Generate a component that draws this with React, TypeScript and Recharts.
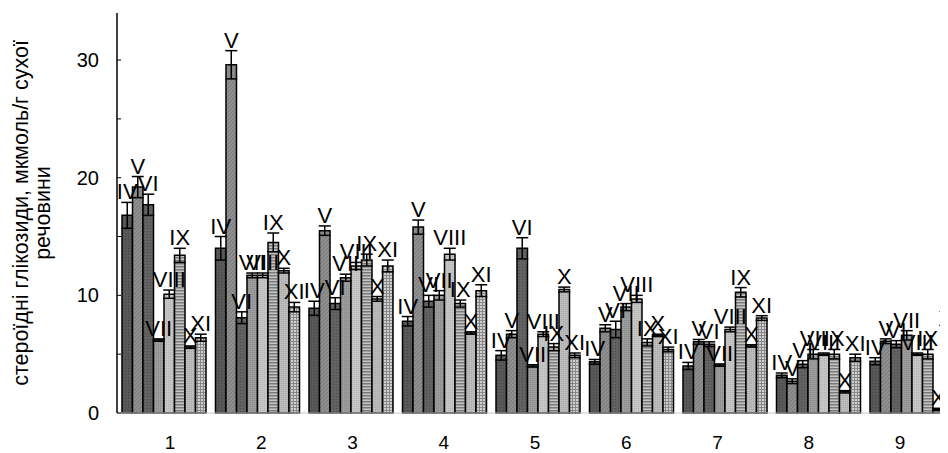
import { BarChart, Bar, XAxis, YAxis, ErrorBar, LabelList } from 'recharts'

const FONT = '"Liberation Sans", Arial, sans-serif'

const GROUPS = ['1', '2', '3', '4', '5', '6', '7', '8', '9']
const SERIES = ['IV', 'V', 'VI', 'VII', 'VIII', 'IX', 'X', 'XI']
const Y_TICKS = [0, 5, 10, 15, 20, 25, 30]

// значення по групах 1..9
const IV = [16.8, 14.0, 8.9, 7.8, 4.9, 4.35, 4.0, 3.2, 4.4]
const V = [19.2, 29.6, 15.5, 15.8, 6.7, 7.2, 6.05, 2.7, 6.1]
const VI = [17.7, 8.1, 9.3, 9.5, 14.0, 7.1, 5.85, 4.15, 5.85]
const VII = [6.2, 11.7, 11.5, 10.0, 4.0, 9.0, 4.07, 5.0, 6.6]
const VIII = [10.1, 11.7, 12.5, 13.5, 6.7, 9.7, 7.1, 5.0, 5.0]
const IX = [13.4, 14.5, 13.0, 9.3, 5.6, 6.0, 10.26, 5.0, 5.0]
const X = [5.6, 12.1, 9.7, 6.8, 10.5, 6.6, 5.7, 1.8, 0.3]
const XI = [6.4, 9.0, 12.5, 10.4, 4.9, 5.4, 8.07, 4.7, 6.8]

// похибки
const IV_ERR = [1.1, 1.0, 0.6, 0.4, 0.4, 0.2, 0.3, 0.2, 0.3]
const V_ERR = [0.9, 1.2, 0.4, 0.6, 0.3, 0.3, 0.2, 0.2, 0.2]
const VI_ERR = [0.9, 0.5, 0.5, 0.5, 0.9, 0.7, 0.2, 0.3, 0.3]
const VII_ERR = [0.1, 0.2, 0.3, 0.4, 0.1, 0.3, 0.1, 0.4, 0.4]
const VIII_ERR = [0.35, 0.2, 0.3, 0.5, 0.2, 0.3, 0.2, 0.1, 0.1]
const IX_ERR = [0.6, 0.8, 0.5, 0.3, 0.3, 0.3, 0.4, 0.4, 0.4]
const X_ERR = [0.1, 0.2, 0.2, 0.1, 0.2, 0.1, 0.1, 0.1, 0.1]
const XI_ERR = [0.3, 0.4, 0.5, 0.5, 0.2, 0.2, 0.2, 0.3, 0.3]

const VALUES = [IV, V, VI, VII, VIII, IX, X, XI]
const ERRORS = [IV_ERR, V_ERR, VI_ERR, VII_ERR, VIII_ERR, IX_ERR, X_ERR, XI_ERR]

const data = GROUPS.map((cat, i) => {
  const row: Record<string, string | number> = { cat }
  SERIES.forEach((s, k) => {
    row[s] = VALUES[k][i]
    row[s + 'err'] = ERRORS[k][i]
  })
  return row
})

function makeLabel(name: string, errs: number[]) {
  return (props: any) => {
    const vb = props.viewBox || {}
    const x = props.x ?? vb.x
    const y = props.y ?? vb.y
    const width = props.width ?? vb.width
    const height = props.height ?? vb.height
    const value = Number(props.value)
    const per = value ? height / value : 0
    const top = y - errs[props.index] * per - 3
    return (
      <text x={x + width / 2} y={top} textAnchor="middle" fontSize={22} fontFamily={FONT} fill="#000">
        {name}
      </text>
    )
  }
}

function AxisTitle(props: any) {
  const { x, y, height } = props.viewBox
  const cy = y + height / 2
  return (
    <g fontFamily={FONT} fontSize={21.5} fill="#000">
      <text x={x + 13} y={cy} textAnchor="middle" dominantBaseline="central" transform={`rotate(-90 ${x + 13} ${cy})`}>
        стероїдні глікозиди, мкмоль/г сухої
      </text>
      <text x={x + 35} y={cy} textAnchor="middle" dominantBaseline="central" transform={`rotate(-90 ${x + 35} ${cy})`}>
        речовини
      </text>
    </g>
  )
}

export default function App() {
  return (
    <div style={{ width: 940, height: 445, overflow: 'hidden' }}>
      <BarChart
        width={980}
        height={445}
        data={data}
        margin={{ top: 5, right: 29.5, bottom: 0, left: 0 }}
        barSize={10.5}
        barGap={0}
      >
        <defs>
          <pattern id="pIV" width="3" height="3" patternUnits="userSpaceOnUse">
            <rect width="3" height="3" fill="#585858" />
            <rect width="1" height="1" fill="#444" />
          </pattern>
          <pattern id="pV" width="4" height="4" patternUnits="userSpaceOnUse">
            <rect width="4" height="4" fill="#8e8e8e" />
            <path d="M0 4 L4 0" stroke="#7a7a7a" strokeWidth="1" />
          </pattern>
          <pattern id="pVI" width="3" height="3" patternUnits="userSpaceOnUse">
            <rect width="3" height="3" fill="#626262" />
            <rect x="1" y="1" width="1" height="1" fill="#4a4a4a" />
          </pattern>
          <pattern id="pVII" width="2" height="2" patternUnits="userSpaceOnUse">
            <rect width="2" height="2" fill="#9c9c9c" />
            <rect width="1" height="1" fill="#8a8a8a" />
          </pattern>
          <pattern id="pVIII" width="2" height="2" patternUnits="userSpaceOnUse">
            <rect width="2" height="2" fill="#c6c6c6" />
            <rect width="1" height="1" fill="#b4b4b4" />
          </pattern>
          <pattern id="pIX" width="3" height="3" patternUnits="userSpaceOnUse">
            <rect width="3" height="3" fill="#c4c4c4" />
            <rect width="3" height="1.5" fill="#7a7a7a" />
          </pattern>
          <pattern id="pX" width="2" height="2" patternUnits="userSpaceOnUse">
            <rect width="2" height="2" fill="#bcbcbc" />
            <rect x="1" y="1" width="1" height="1" fill="#a8a8a8" />
          </pattern>
          <pattern id="pXI" width="3" height="3" patternUnits="userSpaceOnUse">
            <rect width="3" height="3" fill="#cfcfcf" />
            <rect width="3" height="1" fill="#888" />
            <rect width="1" height="3" fill="#888" />
          </pattern>
        </defs>
        <XAxis xAxisId="bars" dataKey="cat" hide />
        <XAxis
          dataKey="cat"
          height={40}
          padding={{ left: 7.4, right: 12.9 }}
          tickLine={false}
          axisLine={{ stroke: '#c8c8c8' }}
          tickMargin={17}
          tick={{ fontSize: 19, fill: '#000', fontFamily: FONT }}
        />
        <YAxis
          width={109}
          domain={[0, 34]}
          ticks={Y_TICKS}
          interval={0}
          tickFormatter={(v: number) => (v % 10 === 0 ? String(v) : '')}
          tickSize={-4}
          tickMargin={22}
          axisLine={{ stroke: '#000', strokeWidth: 1.5 }}
          tickLine={{ stroke: '#000' }}
          tick={{ fontSize: 20, fill: '#000', fontFamily: FONT }}
          label={<AxisTitle />}
        />
        {SERIES.map((s, k) => (
          <Bar
            key={s}
            xAxisId="bars"
            dataKey={s}
            fill={`url(#p${s})`}
            stroke="#000"
            strokeWidth={1.5}
            isAnimationActive={false}
          >
            <ErrorBar dataKey={s + 'err'} width={6} stroke="#000" strokeWidth={1.5} />
            <LabelList dataKey={s} content={makeLabel(s, ERRORS[k])} />
          </Bar>
        ))}
      </BarChart>
    </div>
  )
}
